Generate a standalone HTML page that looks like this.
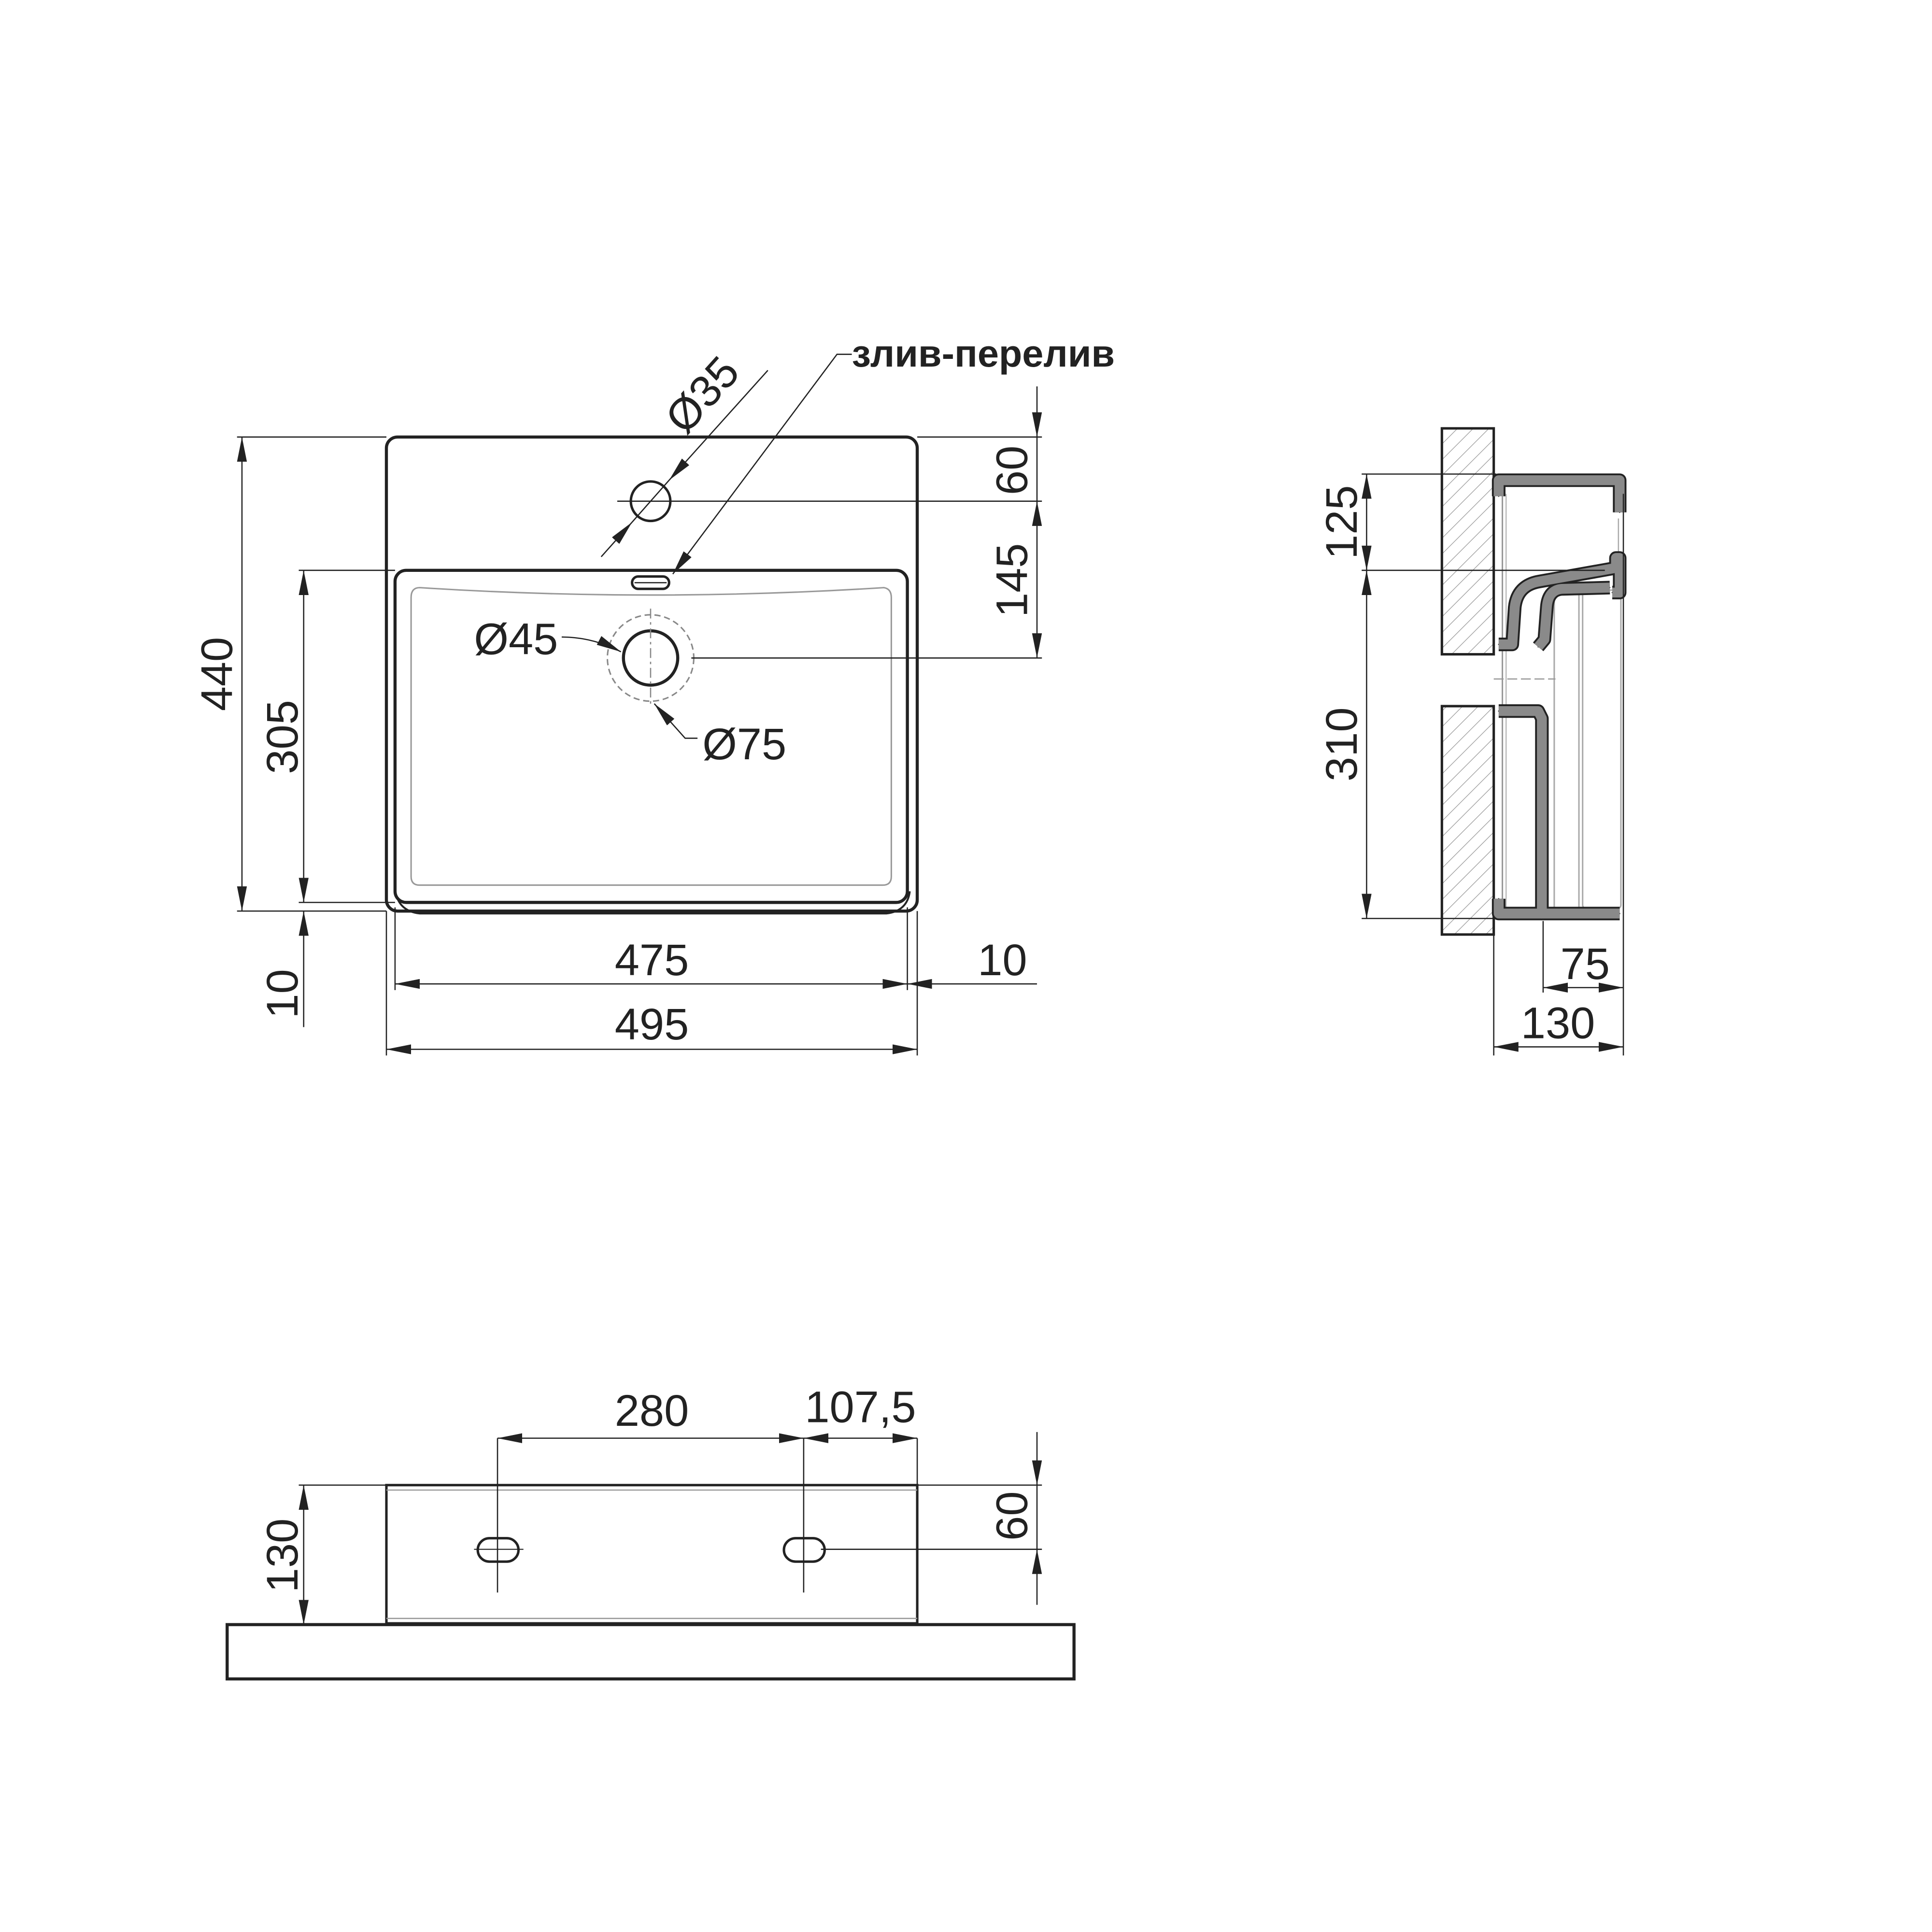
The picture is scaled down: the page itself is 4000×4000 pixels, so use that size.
<!DOCTYPE html>
<html><head><meta charset="utf-8"><style>
html,body{margin:0;padding:0;background:#fff;}
svg{display:block;}
text{font-family:"Liberation Sans","DejaVu Sans",sans-serif;fill:#222;}
</style></head><body>
<svg width="4000" height="4000" viewBox="0 0 1565 1565" xmlns="http://www.w3.org/2000/svg">
<defs>
<marker id="a" viewBox="0 0 20 8" refX="20" refY="4" markerWidth="20" markerHeight="8" markerUnits="userSpaceOnUse" orient="auto-start-reverse">
<path d="M0,0 L20,4 L0,8 Z" fill="#222"/></marker>
<pattern id="h" patternUnits="userSpaceOnUse" width="9" height="9" patternTransform="rotate(45)">
<line x1="0" y1="0" x2="0" y2="9" stroke="#999" stroke-width="1"/></pattern>
</defs>
<g fill="none" stroke="#222">
<!-- TOP VIEW -->
<rect x="313" y="354" width="430" height="384" rx="9" stroke-width="2.5"/>
<rect x="320" y="462" width="415" height="269" rx="9" stroke-width="2.5"/>
<path d="M320,720 Q322,738 340,740 L718,740 Q735,738 737,722" stroke-width="1.5"/>
<path d="M340,476 Q527,488 716,476 Q722,477 722,484 L722,710 Q722,717 715,717 L340,717 Q333,717 333,710 L333,484 Q333,476 340,476 Z" stroke="#999" stroke-width="1.2"/>
<circle cx="527" cy="406" r="16" stroke-width="2"/>
<rect x="512" y="467" width="30" height="10" rx="5" stroke-width="2"/>
<line x1="514" y1="472" x2="540" y2="472" stroke-width="1"/>
<circle cx="527" cy="533" r="22" stroke-width="2.5"/>
<circle cx="527" cy="533" r="35" stroke="#888" stroke-width="1.2" stroke-dasharray="5,3"/>
<line x1="527" y1="493" x2="527" y2="573" stroke="#888" stroke-width="1" stroke-dasharray="8,3,2,3"/>
<line x1="622" y1="300" x2="542" y2="389" stroke-width="1" marker-end="url(#a)"/>
<line x1="487" y1="451" x2="512" y2="423" stroke-width="1" marker-end="url(#a)"/>
<line x1="512" y1="423" x2="542" y2="389" stroke-width="1"/>
<polyline points="690,287 678,287 545,465" stroke-width="1" marker-end="url(#a)"/>
<path d="M455,516 Q480,516 503,528" stroke-width="1" marker-end="url(#a)"/>
<path d="M565,598 L555,598 L530,570" stroke-width="1" marker-end="url(#a)"/>
<line x1="192" y1="354" x2="313" y2="354" stroke-width="1"/>
<line x1="192" y1="738" x2="313" y2="738" stroke-width="1"/>
<line x1="196" y1="354" x2="196" y2="738" stroke-width="1" marker-start="url(#a)" marker-end="url(#a)"/>
<line x1="242" y1="462" x2="320" y2="462" stroke-width="1"/>
<line x1="242" y1="731" x2="320" y2="731" stroke-width="1"/>
<line x1="246" y1="462" x2="246" y2="731" stroke-width="1" marker-start="url(#a)" marker-end="url(#a)"/>
<line x1="246" y1="832" x2="246" y2="738" stroke-width="1" marker-end="url(#a)"/>
<line x1="743" y1="354" x2="844" y2="354" stroke-width="1"/>
<line x1="500" y1="406" x2="844" y2="406" stroke-width="1"/>
<line x1="560" y1="533" x2="844" y2="533" stroke-width="1"/>
<line x1="840" y1="313" x2="840" y2="354" stroke-width="1" marker-end="url(#a)"/>
<line x1="840" y1="406" x2="840" y2="354" stroke-width="1"/>
<line x1="840" y1="406" x2="840" y2="533" stroke-width="1" marker-start="url(#a)" marker-end="url(#a)"/>
<line x1="320" y1="735" x2="320" y2="802" stroke-width="1"/>
<line x1="735" y1="735" x2="735" y2="802" stroke-width="1"/>
<line x1="313" y1="738" x2="313" y2="855" stroke-width="1"/>
<line x1="743" y1="738" x2="743" y2="855" stroke-width="1"/>
<line x1="320" y1="797" x2="735" y2="797" stroke-width="1" marker-start="url(#a)" marker-end="url(#a)"/>
<line x1="840" y1="797" x2="735" y2="797" stroke-width="1" marker-end="url(#a)"/>
<line x1="313" y1="850" x2="743" y2="850" stroke-width="1" marker-start="url(#a)" marker-end="url(#a)"/>

<!-- SIDE VIEW -->
<rect x="1168" y="347" width="42" height="183" fill="url(#h)" stroke-width="2"/>
<rect x="1168" y="572" width="42" height="185" fill="url(#h)" stroke-width="2"/>
<line x1="1217" y1="400" x2="1217" y2="735" stroke="#999" stroke-width="1.2"/>
<line x1="1220" y1="400" x2="1220" y2="735" stroke="#bbb" stroke-width="1"/>
<rect x="1259" y="478" width="20" height="258" stroke="#aaa" stroke-width="1.2"/>
<rect x="1282" y="478" width="31" height="258" rx="3" stroke="#aaa" stroke-width="1.2"/>
<line x1="1311" y1="420" x2="1311" y2="448" stroke="#aaa" stroke-width="1"/>
<g stroke-linejoin="round" stroke-linecap="round">
<path id="p1" d="M1214,402 L1214,389 L1312,389 L1312,415"/>
<path id="p2" d="M1214,522 L1225,522 L1227,492 Q1229,474 1247,471 L1309,460 L1309,452 L1312,452 L1312,480 L1306,480"/>
<path id="p3" d="M1304,476 L1265,477 Q1254,478 1253,492 L1251,518 L1246,524"/>
<path id="p4" d="M1214,576 L1246,576 L1249,582 L1249,740 L1312,740"/>
<path id="p5" d="M1214,728 L1214,740 L1249,740"/>
</g>
<g stroke="#222" stroke-width="11" stroke-linejoin="round"><use href="#p1"/><use href="#p2"/><use href="#p3"/><use href="#p4"/><use href="#p5"/></g>
<g stroke="#8a8a8a" stroke-width="8" stroke-linejoin="round"><use href="#p1"/><use href="#p2"/><use href="#p3"/><use href="#p4"/><use href="#p5"/></g>
<line x1="1210" y1="550" x2="1260" y2="550" stroke="#999" stroke-width="1" stroke-dasharray="8,3"/>
<line x1="1103" y1="384" x2="1212" y2="384" stroke-width="1"/>
<line x1="1103" y1="462" x2="1300" y2="462" stroke-width="1"/>
<line x1="1103" y1="744" x2="1212" y2="744" stroke-width="1"/>
<line x1="1107" y1="384" x2="1107" y2="462" stroke-width="1" marker-start="url(#a)" marker-end="url(#a)"/>
<line x1="1107" y1="462" x2="1107" y2="744" stroke-width="1" marker-start="url(#a)" marker-end="url(#a)"/>
<line x1="1210" y1="757" x2="1210" y2="855" stroke-width="1"/>
<line x1="1250" y1="746" x2="1250" y2="804" stroke-width="1"/>
<line x1="1315" y1="400" x2="1315" y2="855" stroke-width="1"/>
<line x1="1250" y1="800" x2="1315" y2="800" stroke-width="1" marker-start="url(#a)" marker-end="url(#a)"/>
<line x1="1210" y1="848" x2="1315" y2="848" stroke-width="1" marker-start="url(#a)" marker-end="url(#a)"/>

<!-- BOTTOM VIEW -->
<rect x="313" y="1203" width="430" height="112" stroke-width="2"/>
<line x1="313" y1="1207" x2="743" y2="1207" stroke="#999" stroke-width="1"/>
<line x1="313" y1="1311" x2="743" y2="1311" stroke="#999" stroke-width="1"/>
<rect x="184" y="1316" width="686" height="44" stroke-width="2.5"/>
<rect x="387" y="1246" width="33" height="19" rx="9.5" stroke-width="2"/>
<rect x="635" y="1246" width="33" height="19" rx="9.5" stroke-width="2"/>
<line x1="384" y1="1255" x2="424" y2="1255" stroke-width="0.8"/>
<line x1="403" y1="1165" x2="403" y2="1290" stroke-width="1"/>
<line x1="651" y1="1165" x2="651" y2="1290" stroke-width="1"/>
<line x1="743" y1="1165" x2="743" y2="1203" stroke-width="1"/>
<line x1="403" y1="1165" x2="651" y2="1165" stroke-width="1" marker-start="url(#a)" marker-end="url(#a)"/>
<line x1="651" y1="1165" x2="743" y2="1165" stroke-width="1" marker-start="url(#a)" marker-end="url(#a)"/>
<line x1="242" y1="1203" x2="313" y2="1203" stroke-width="1"/>
<line x1="246" y1="1203" x2="246" y2="1316" stroke-width="1" marker-start="url(#a)" marker-end="url(#a)"/>
<line x1="743" y1="1203" x2="844" y2="1203" stroke-width="1"/>
<line x1="665" y1="1255" x2="844" y2="1255" stroke-width="1"/>
<line x1="840" y1="1160" x2="840" y2="1203" stroke-width="1" marker-end="url(#a)"/>
<line x1="840" y1="1203" x2="840" y2="1255" stroke-width="1"/>
<line x1="840" y1="1300" x2="840" y2="1255" stroke-width="1" marker-end="url(#a)"/>
</g>
<g font-size="36" stroke="none">
<text x="690" y="297" font-weight="bold" font-size="31">злив-перелив</text>
<text transform="translate(578,328) rotate(-48)" text-anchor="middle">Ø35</text>
<text x="418" y="530" text-anchor="middle">Ø45</text>
<text x="603" y="615" text-anchor="middle">Ø75</text>
<text transform="translate(188,546) rotate(-90)" text-anchor="middle">440</text>
<text transform="translate(241,597) rotate(-90)" text-anchor="middle">305</text>
<text transform="translate(241,805) rotate(-90)" text-anchor="middle">10</text>
<text transform="translate(832,381) rotate(-90)" text-anchor="middle">60</text>
<text transform="translate(832,470) rotate(-90)" text-anchor="middle">145</text>
<text x="528" y="790" text-anchor="middle">475</text>
<text x="812" y="790" text-anchor="middle">10</text>
<text x="528" y="842" text-anchor="middle">495</text>
<text transform="translate(1099,423) rotate(-90)" text-anchor="middle">125</text>
<text transform="translate(1099,603) rotate(-90)" text-anchor="middle">310</text>
<text x="1284" y="793" text-anchor="middle">75</text>
<text x="1262" y="841" text-anchor="middle">130</text>
<text x="528" y="1155" text-anchor="middle">280</text>
<text x="697" y="1152" text-anchor="middle">107,5</text>
<text transform="translate(241,1260) rotate(-90)" text-anchor="middle">130</text>
<text transform="translate(832,1228) rotate(-90)" text-anchor="middle">60</text>
</g>
</svg>
</body></html>
